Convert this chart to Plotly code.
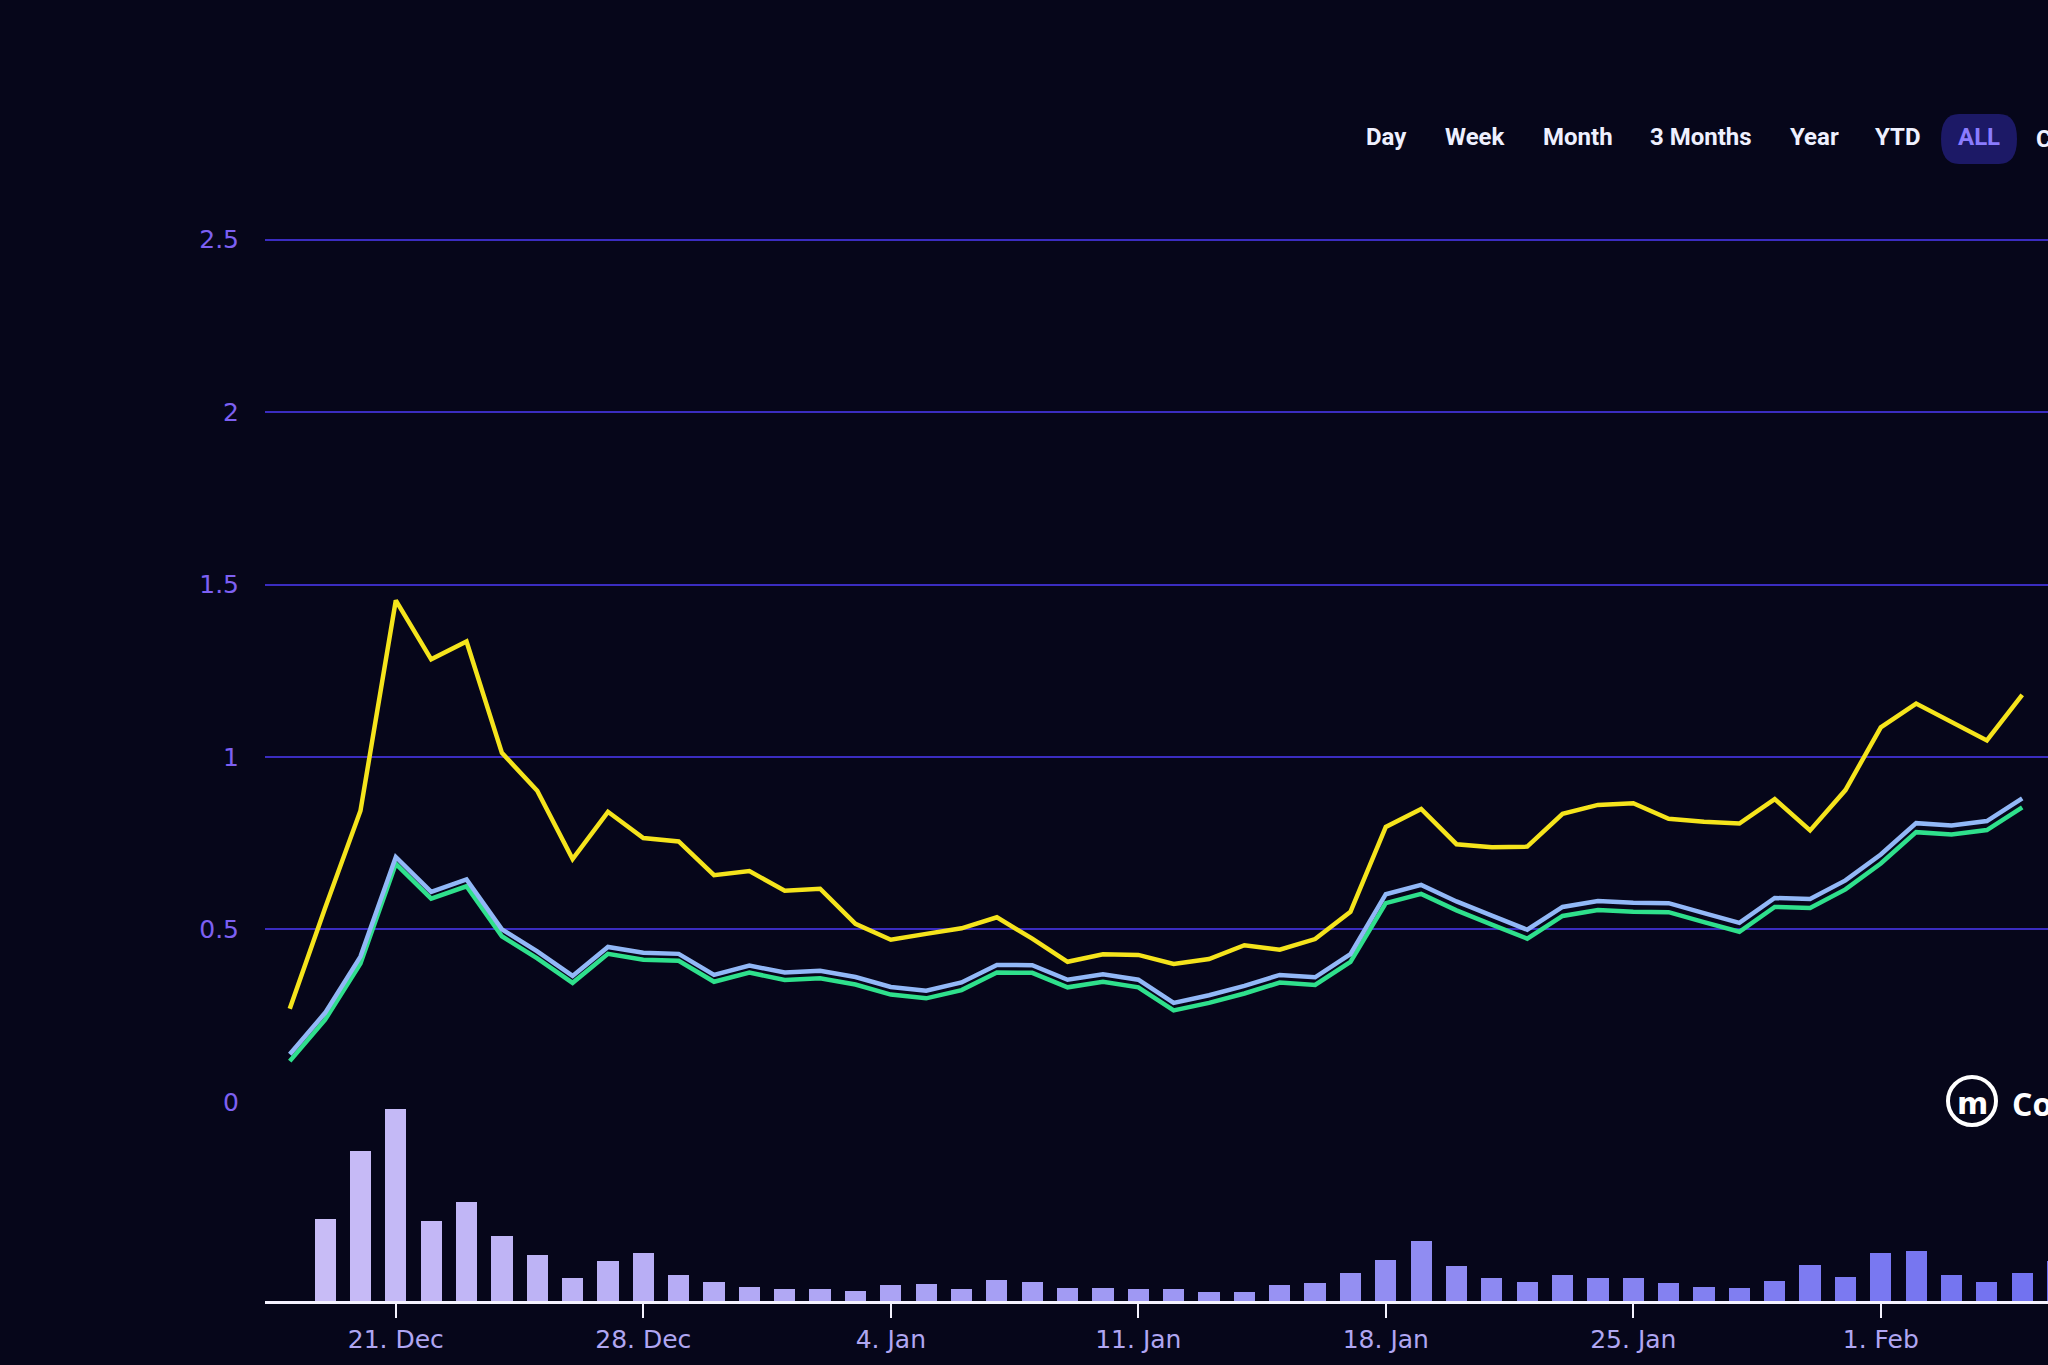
import plotly.graph_objects as go
import pandas as pd

# ---------------- data ----------------
line_dates = pd.date_range("2020-12-18", "2021-02-05", freq="D")
volume_dates = pd.date_range("2020-12-19", "2021-02-06", freq="D")

yellow = [0.270, 0.562, 0.844, 1.454, 1.283, 1.335, 1.012, 0.902, 0.704, 0.841,
          0.765, 0.755, 0.657, 0.669, 0.612, 0.618, 0.516, 0.470, 0.487, 0.503,
          0.535, 0.473, 0.406, 0.428, 0.426, 0.400, 0.414, 0.454, 0.441, 0.472,
          0.551, 0.797, 0.849, 0.747, 0.738, 0.740, 0.835, 0.861, 0.866, 0.821,
          0.812, 0.807, 0.878, 0.787, 0.904, 1.086, 1.155, 1.103, 1.048, 1.180]

blue = [0.138, 0.258, 0.421, 0.710, 0.609, 0.645, 0.500, 0.436, 0.365, 0.449,
        0.432, 0.429, 0.368, 0.395, 0.375, 0.380, 0.362, 0.333, 0.322, 0.346,
        0.397, 0.396, 0.354, 0.370, 0.354, 0.287, 0.309, 0.336, 0.368, 0.361,
        0.428, 0.602, 0.629, 0.581, 0.540, 0.499, 0.565, 0.582, 0.577, 0.576,
        0.547, 0.519, 0.591, 0.588, 0.642, 0.717, 0.808, 0.801, 0.814, 0.880]

green = [0.118, 0.238, 0.401, 0.690, 0.589, 0.625, 0.480, 0.416, 0.345, 0.429,
         0.412, 0.409, 0.348, 0.375, 0.353, 0.358, 0.340, 0.311, 0.300, 0.324,
         0.375, 0.374, 0.332, 0.348, 0.332, 0.265, 0.287, 0.314, 0.346, 0.339,
         0.406, 0.576, 0.603, 0.555, 0.514, 0.473, 0.539, 0.556, 0.551, 0.550,
         0.521, 0.493, 0.565, 0.562, 0.616, 0.691, 0.782, 0.775, 0.788, 0.854]

volume = [247, 451, 577, 240, 297, 195, 137, 70, 121, 143,
          78, 57, 41, 35, 35, 29, 49, 50, 35, 62,
          56, 40, 38, 37, 37, 26, 26, 47, 54, 83,
          123, 179, 104, 69, 56, 77, 69, 69, 55, 42,
          40, 61, 107, 73, 145, 151, 78, 57, 83, 120]

tick_dates = ["2020-12-21", "2020-12-28", "2021-01-04", "2021-01-11",
              "2021-01-18", "2021-01-25", "2021-02-01"]
tick_labels = ["21. Dec", "28. Dec", "4. Jan", "11. Jan", "18. Jan", "25. Jan", "1. Feb"]
y_ticks = [0, 0.5, 1, 1.5, 2, 2.5]
y_tick_labels = ["0", "0.5", "1", "1.5", "2", "2.5"]
buttons = ["Day", "Week", "Month", "3 Months", "Year", "YTD", "ALL", "Custom"]

# ---------------- layout geometry (pixels) ----------------
W, H = 2048, 1365
ML, MR, MT, MB = 265, 0, 150, 64
PW, PH = W - ML - MR, H - MT - MB


def px(xp):
    return (xp - ML) / PW


def py(yp):
    return (H - MB - yp) / PH


BG = "#06061a"

# main pane: value -0.25 at y=1188 px, value 2.65 at y=188 px
main_domain = [py(1188), py(188)]
# volume pane: 200 px tall above the baseline
vol_domain = [0, py(H - MB - 200)]

# bar colours shift from lavender to blue (viewing angle)
c0, c1 = (200, 188, 246), (112, 112, 240)
n = len(volume)
bar_colors = ["rgb(%d,%d,%d)" % tuple(round(a + (b - a) * i / (n - 1)) for a, b in zip(c0, c1))
              for i in range(n)]

fig = go.Figure()

fig.add_trace(go.Bar(x=volume_dates, y=volume, yaxis="y2", xaxis="x",
                     marker=dict(color=bar_colors, line=dict(width=0)),
                     width=0.6 * 86400000))

fig.add_trace(go.Scatter(x=line_dates, y=green, mode="lines",
                         line=dict(color="#2fe08c", width=4.5)))
fig.add_trace(go.Scatter(x=line_dates, y=blue, mode="lines",
                         line=dict(color="#92b8f7", width=4.5)))
fig.add_trace(go.Scatter(x=line_dates, y=yellow, mode="lines",
                         line=dict(color="#f5e41c", width=4.5)))

fig.update_layout(
    width=W, height=H,
    margin=dict(l=ML, r=MR, t=MT, b=MB, pad=0),
    paper_bgcolor=BG, plot_bgcolor=BG,
    showlegend=False, hovermode=False,
    bargap=0,
    xaxis=dict(
        type="date", anchor="y2",
        range=["2020-12-17 07:12", "2021-02-05 17:30"],
        tickvals=tick_dates, ticktext=tick_labels,
        showgrid=False, zeroline=False,
        showline=True, linecolor="#f4f2ff", linewidth=3,
        ticks="outside", ticklen=14, tickwidth=2, tickcolor="#f4f2ff",
        tickfont=dict(family="DejaVu Sans", size=25, color="#b0a6f2"),
        automargin=False,
    ),
    yaxis=dict(
        domain=main_domain, range=[-0.25, 2.65],
        tickvals=y_ticks, ticktext=y_tick_labels,
        showgrid=True, gridcolor="#3a2cc0", gridwidth=1.5,
        zeroline=False, showline=False,
        ticks="outside", ticklen=20, tickcolor="rgba(0,0,0,0)",
        tickfont=dict(family="DejaVu Sans", size=25, color="#7d60f2"),
        automargin=False,
    ),
    yaxis2=dict(
        domain=vol_domain, range=[0, 600], anchor="x",
        visible=False, showgrid=False, zeroline=False,
    ),
)

# ---------------- range selector buttons ----------------
btn_x = [1386, 1475, 1578, 1701, 1814, 1898, 1979]
btn_y = 137
fig.add_shape(type="path", xref="paper", yref="paper",
              xsizemode="pixel", ysizemode="pixel",
              xanchor=px(1979), yanchor=py(btn_y + 2),
              path="M -20,-25 L 20,-25 Q 38,-25 38,0 Q 38,25 20,25 L -20,25 Q -38,25 -38,0 Q -38,-25 -20,-25 Z",
              fillcolor="#1c1966", line=dict(width=0), layer="below")
for label, bx in zip(buttons[:-1], btn_x):
    fig.add_annotation(x=px(bx), y=py(btn_y), xref="paper", yref="paper",
                       text="<b>%s</b>" % label, showarrow=False,
                       xanchor="center", yanchor="middle",
                       font=dict(family="Roboto", size=24,
                                 color="#8a7cff" if label == "ALL" else "#eef0ff"))
fig.add_annotation(x=px(2034), y=py(btn_y + 2), xref="paper", yref="paper",
                   text="<b>%s</b>" % buttons[-1], showarrow=False,
                   xanchor="left", yanchor="middle",
                   font=dict(family="Roboto", size=24, color="#eef0ff"))

# ---------------- watermark logo ----------------
fig.add_shape(type="circle", xref="paper", yref="paper",
              xsizemode="pixel", ysizemode="pixel",
              xanchor=px(1972), yanchor=py(1101),
              x0=-24, x1=24, y0=-24, y1=24,
              fillcolor=BG, line=dict(color="#ffffff", width=4))
fig.add_annotation(x=px(1972), y=py(1103), xref="paper", yref="paper",
                   text="<b>m</b>", showarrow=False, xanchor="center", yanchor="middle",
                   font=dict(family="DejaVu Sans", size=30, color="#ffffff"))
fig.add_annotation(x=px(2010), y=py(1103), xref="paper", yref="paper",
                   text="<b>CoinMarketCap</b>", showarrow=False,
                   xanchor="left", yanchor="middle",
                   font=dict(family="Open Sans", size=32, color="#ffffff"))

fig.write_html("out.html", config={"displayModeBar": False},
               post_script="document.body.style.margin='0';document.body.style.overflow='hidden';")
